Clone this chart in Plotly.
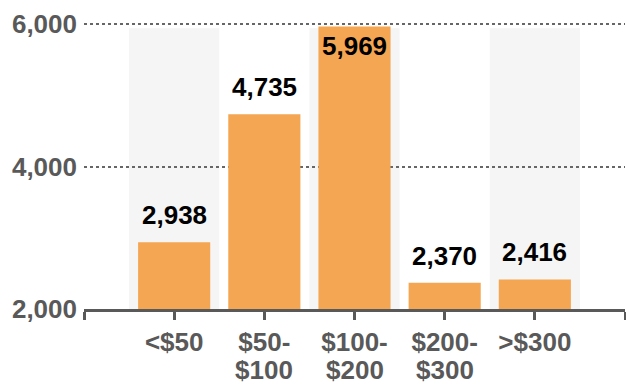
import plotly.graph_objects as go

categories = ["<$50", "$50-<br>$100", "$100-<br>$200", "$200-<br>$300", ">$300"]
values = [2938, 4735, 5969, 2370, 2416]
y_ticks = [2000, 4000, 6000]
y_tick_labels = ["2,000", "4,000", "6,000"]

positions = list(range(1, len(categories) + 1))
BAR = "#F5A652"
GREY = "#595959"
FONT = "Liberation Sans"
FS = 26

first_lines = [c.split("<br>")[0] for c in categories]
second_lines = [c.split("<br>")[1] if "<br>" in c else "" for c in categories]

fig = go.Figure()
fig.add_trace(go.Bar(x=positions, y=values, marker=dict(color=BAR, line=dict(width=0)),
                     width=0.8, hoverinfo="skip"))

shapes = []
for i, p in enumerate(positions):
    if i % 2 == 0:
        shapes.append(dict(type="rect", xref="x", yref="y", x0=p - 0.5, x1=p + 0.5,
                           y0=2000, y1=5945, fillcolor="#F5F5F5", line=dict(width=0),
                           layer="below"))

annotations = []
for p, v in zip(positions, values):
    inside = v > 5800
    annotations.append(dict(x=p, y=v, xref="x", yref="y", text=f"{v:,}", showarrow=False,
                            yanchor="top" if inside else "bottom",
                            yshift=-3 if inside else 10,
                            font=dict(family=FONT, size=FS, color="#000000", weight="bold")))
for p, s in zip(positions, second_lines):
    if s:
        annotations.append(dict(x=p, y=0, xref="x", yref="paper", text=s, showarrow=False,
                                yanchor="middle", yshift=-61,
                                font=dict(family=FONT, size=FS, color=GREY, weight="bold")))

fig.update_layout(
    width=626, height=385,
    margin=dict(l=84, r=1, t=20, b=76, autoexpand=False),
    paper_bgcolor="white", plot_bgcolor="white",
    showlegend=False,
    shapes=shapes, annotations=annotations,
    bargap=0.2,
    xaxis=dict(range=[0, len(categories) + 1], tickmode="array",
               tickvals=[0] + positions + [len(categories) + 1],
               ticktext=[""] + first_lines + [""],
               showline=True, linecolor=GREY, linewidth=3,
               ticks="outside", ticklen=8, tickwidth=3, tickcolor=GREY,
               showgrid=False, zeroline=False, automargin=False,
               tickfont=dict(family=FONT, size=FS, color=GREY, weight="bold")),
    yaxis=dict(range=[2000, 6060], tickmode="array", tickvals=y_ticks, ticktext=y_tick_labels,
               showgrid=True, gridcolor="#666666", griddash="dot", gridwidth=1.5,
               showline=False, zeroline=False, ticks="", ticklabelstandoff=6,
               automargin=False,
               tickfont=dict(family=FONT, size=FS, color=GREY, weight="bold")),
)

fig.write_html("out.html")
